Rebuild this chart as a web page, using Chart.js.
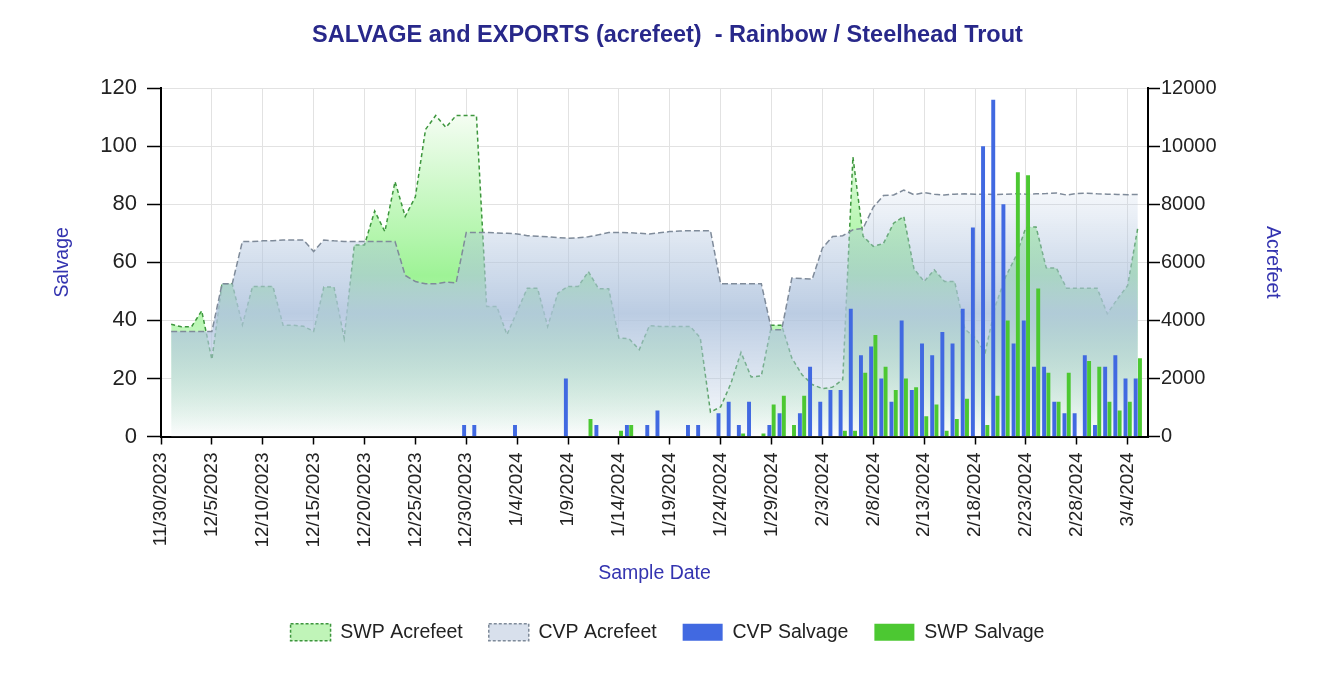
<!DOCTYPE html>
<html>
<head>
<meta charset="utf-8">
<script src="https://cdn.jsdelivr.net/npm/chart.js@4.4.1/dist/chart.umd.min.js"></script>
<style>
  html, body { margin: 0; padding: 0; background: #ffffff; }
  #wrap { width: 1335px; height: 674px; position: relative; }
</style>
</head>
<body>
<div id="wrap"><canvas id="c"></canvas></div>
<script>
const _ = null;

// Sample dates (one per data day)
const dates = [
 '12/1/2023','12/2/2023','12/3/2023','12/4/2023','12/5/2023','12/6/2023','12/7/2023','12/8/2023','12/9/2023','12/10/2023',
 '12/11/2023','12/12/2023','12/13/2023','12/14/2023','12/15/2023','12/16/2023','12/17/2023','12/18/2023','12/19/2023','12/20/2023',
 '12/21/2023','12/22/2023','12/23/2023','12/24/2023','12/25/2023','12/26/2023','12/27/2023','12/28/2023','12/29/2023','12/30/2023',
 '12/31/2023','1/1/2024','1/2/2024','1/3/2024','1/4/2024','1/5/2024','1/6/2024','1/7/2024','1/8/2024','1/9/2024',
 '1/10/2024','1/11/2024','1/12/2024','1/13/2024','1/14/2024','1/15/2024','1/16/2024','1/17/2024','1/18/2024','1/19/2024',
 '1/20/2024','1/21/2024','1/22/2024','1/23/2024','1/24/2024','1/25/2024','1/26/2024','1/27/2024','1/28/2024','1/29/2024',
 '1/30/2024','1/31/2024','2/1/2024','2/2/2024','2/3/2024','2/4/2024','2/5/2024','2/6/2024','2/7/2024','2/8/2024',
 '2/9/2024','2/10/2024','2/11/2024','2/12/2024','2/13/2024','2/14/2024','2/15/2024','2/16/2024','2/17/2024','2/18/2024',
 '2/19/2024','2/20/2024','2/21/2024','2/22/2024','2/23/2024','2/24/2024','2/25/2024','2/26/2024','2/27/2024','2/28/2024',
 '2/29/2024','3/1/2024','3/2/2024','3/3/2024','3/4/2024','3/5/2024'
];

// Axis start / end dates and tick labels (every 5 days)
const axisStart = '11/30/2023';
const axisEnd = '3/6/2024';
const tickLabels = ['11/30/2023','12/5/2023','12/10/2023','12/15/2023','12/20/2023','12/25/2023','12/30/2023',
 '1/4/2024','1/9/2024','1/14/2024','1/19/2024','1/24/2024','1/29/2024','2/3/2024','2/8/2024','2/13/2024',
 '2/18/2024','2/23/2024','2/28/2024','3/4/2024'];

// SWP exports (acrefeet)
const swpAcrefeet = [
 3870,3780,3780,4330,2650,5260,5260,3850,5170,5170,
 5170,3830,3830,3800,3620,5150,5150,3390,6600,6600,
 7770,7060,8780,7580,8260,10580,11060,10650,11060,11060,
 11060,4480,4480,3510,4310,5110,5110,3790,4940,5170,
 5170,5680,5090,5090,3390,3370,2990,3820,3790,3790,
 3790,3790,3400,840,1020,1820,2900,2050,2090,3830,
 3830,2700,2130,1790,1650,1700,1960,9630,6900,6550,
 6650,7350,7580,5780,5340,5740,5340,5340,3700,3400,
 2900,4500,5500,6200,7200,7220,5810,5800,5110,5110,
 5110,5110,4230,4740,5200,7200
];

// CVP exports (acrefeet)
const cvpAcrefeet = [
 3620,3620,3620,3620,3620,5260,5260,6720,6720,6740,
 6740,6770,6770,6770,6370,6770,6740,6720,6720,6720,
 6720,6720,6720,5550,5340,5260,5260,5320,5290,7030,
 7030,7030,7010,7000,6980,6920,6900,6880,6850,6830,
 6850,6880,6950,7030,7030,7020,7000,6980,7020,7060,
 7080,7090,7090,7090,5260,5260,5260,5260,5260,3680,
 3680,5460,5440,5420,6490,6890,6920,7120,7170,7900,
 8300,8320,8490,8330,8400,8350,8320,8350,8360,8350,
 8350,8340,8350,8360,8350,8360,8370,8390,8320,8370,
 8380,8360,8350,8340,8330,8340
];

// CVP salvage (fish)
const cvpSalvage = [
 _,_,_,_,_,_,_,_,_,_,
 _,_,_,_,_,_,_,_,_,_,
 _,_,_,_,_,_,_,_,_,4,
 4,_,_,_,4,_,_,_,_,20,
 _,_,4,_,_,4,_,4,9,_,
 _,4,4,_,8,12,4,12,_,4,
 8,_,8,24,12,16,16,44,28,31,
 20,12,40,16,32,28,36,32,44,72,
 100,116,80,32,40,24,24,12,8,8,
 28,4,24,28,20,20
];

// SWP salvage (fish)
const swpSalvage = [
 _,_,_,_,_,_,_,_,_,_,
 _,_,_,_,_,_,_,_,_,_,
 _,_,_,_,_,_,_,_,_,_,
 _,_,_,_,_,_,_,_,_,_,
 _,6,_,_,2,4,_,_,_,_,
 _,_,_,_,_,_,1,_,1,11,
 14,4,14,_,_,_,2,2,22,35,
 24,16,20,17,7,11,2,6,13,_,
 4,14,40,91,90,51,22,12,22,_,
 26,24,12,9,12,27
];

const DAY = 86400000;
const t0 = new Date(axisStart).getTime();
const dayOf = (s) => Math.round((new Date(s).getTime() - t0) / DAY);
const xMax = dayOf(axisEnd);
const pts = (arr) => arr.map((v, i) => ({ x: dayOf(dates[i]), y: v }));

const FONT = "'Liberation Sans', Arial, sans-serif";

function vGradient(chart, maxVal, stops) {
  const s = chart.scales.y1;
  if (!chart.chartArea || !s) return stops[1][1];
  const top = s.getPixelForValue(maxVal);
  const bot = s.getPixelForValue(0);
  const g = chart.ctx.createLinearGradient(0, top, 0, bot);
  stops.forEach(([o, c]) => g.addColorStop(o, c));
  return g;
}

const swpMax = Math.max(...swpAcrefeet);
const cvpMax = Math.max(...cvpAcrefeet);

new Chart(document.getElementById('c'), {
  type: 'bar',
  data: {
    datasets: [
      {
        type: 'line', label: 'SWP Acrefeet', data: pts(swpAcrefeet), yAxisID: 'y1', order: 3,
        fill: 'origin', tension: 0, pointRadius: 0, borderWidth: 1.5, borderDash: [4, 3],
        borderColor: '#3d963d',
        backgroundColor: (ctx) => vGradient(ctx.chart, swpMax, [
          [0, 'rgba(244,253,242,1)'], [0.5, 'rgba(158,243,150,1)'], [1, 'rgba(255,255,255,1)']])
      },
      {
        type: 'line', label: 'CVP Acrefeet', data: pts(cvpAcrefeet), yAxisID: 'y1', order: 2,
        fill: 'origin', tension: 0, pointRadius: 0, borderWidth: 1.5, borderDash: [6, 3],
        borderColor: '#7f8b9a',
        backgroundColor: (ctx) => vGradient(ctx.chart, cvpMax, [
          [0, 'rgba(176,196,222,0.12)'], [0.5, 'rgba(176,196,222,0.86)'], [1, 'rgba(176,196,222,0.04)']])
      },
      {
        type: 'bar', label: 'CVP Salvage', data: pts(cvpSalvage), yAxisID: 'y', order: 0,
        backgroundColor: '#4169e1', barPercentage: 0.92, categoryPercentage: 0.84
      },
      {
        type: 'bar', label: 'SWP Salvage', data: pts(swpSalvage), yAxisID: 'y', order: 1,
        backgroundColor: '#4cc832', barPercentage: 0.92, categoryPercentage: 0.84
      }
    ]
  },
  options: {
    responsive: true,
    maintainAspectRatio: false,
    animation: false,
    events: [],
    layout: { padding: { left: 0, right: 0, top: 0, bottom: 22 } },
    scales: {
      x: {
        type: 'linear', position: 'bottom', min: 0, max: xMax, offset: false,
        ticks: {
          stepSize: 5, includeBounds: false, autoSkip: false, maxTicksLimit: 40,
          minRotation: 90, maxRotation: 90, padding: 8, color: '#222',
          font: { family: FONT, size: 19 },
          callback: (v) => tickLabels[Math.round(v / 5)] || ''
        },
        grid: { offset: false, color: '#e2e2e2', lineWidth: 1, tickLength: 8, tickColor: '#000', tickWidth: 1.5 },
        border: { color: '#000', width: 2 },
        title: { display: true, text: 'Sample Date', color: '#3434b0', font: { family: FONT, size: 19.5 }, padding: { top: 0, bottom: 11 } },
        afterFit: (s) => { s.height = 160; }
      },
      y: {
        type: 'linear', position: 'left', min: 0, max: 120,
        ticks: { stepSize: 20, padding: 10, color: '#222', font: { family: FONT, size: 22 } },
        grid: { color: '#e2e2e2', lineWidth: 1, tickLength: 14, tickColor: '#000', tickWidth: 1.5 },
        border: { color: '#000', width: 2 },
        title: { display: true, text: 'Salvage', color: '#3434b0', font: { family: FONT, size: 19.5 }, padding: { top: 51, bottom: 0 } },
        afterFit: (s) => { s.width = 161; }
      },
      y1: {
        type: 'linear', position: 'right', min: 0, max: 12000,
        ticks: { stepSize: 2000, padding: 1, color: '#222', font: { family: FONT, size: 20 }, callback: (v) => String(v) },
        grid: { drawOnChartArea: false, tickLength: 12, tickColor: '#000', tickWidth: 1.5 },
        border: { color: '#000', width: 2 },
        title: { display: true, text: 'Acrefeet', color: '#3434b0', font: { family: FONT, size: 19.5 }, padding: { top: 51, bottom: 0 } },
        afterFit: (s) => { s.width = 187; }
      }
    },
    plugins: {
      tooltip: { enabled: false },
      title: {
        display: true,
        text: 'SALVAGE and EXPORTS (acrefeet)  - Rainbow / Steelhead Trout',
        color: '#28288a',
        font: { family: FONT, size: 23.5, weight: 'bold' },
        padding: { top: 21, bottom: 39 }
      },
      legend: {
        position: 'bottom',
        labels: {
          boxWidth: 40, boxHeight: 17, padding: 26, color: '#222',
          font: { family: FONT, size: 19.5 },
          generateLabels: () => [
            { text: 'SWP Acrefeet', fillStyle: '#c0f4b8', strokeStyle: '#3d963d', lineWidth: 1.5, lineDash: [3, 2], hidden: false, datasetIndex: 0, fontColor: '#222' },
            { text: 'CVP Acrefeet', fillStyle: '#d8e0ec', strokeStyle: '#7f8b9a', lineWidth: 1.5, lineDash: [3, 2], hidden: false, datasetIndex: 1, fontColor: '#222' },
            { text: 'CVP Salvage', fillStyle: '#4169e1', strokeStyle: '#4169e1', lineWidth: 0, hidden: false, datasetIndex: 2, fontColor: '#222' },
            { text: 'SWP Salvage', fillStyle: '#4cc832', strokeStyle: '#4cc832', lineWidth: 0, hidden: false, datasetIndex: 3, fontColor: '#222' }
          ]
        }
      }
    }
  }
});
</script>
</body>
</html>
